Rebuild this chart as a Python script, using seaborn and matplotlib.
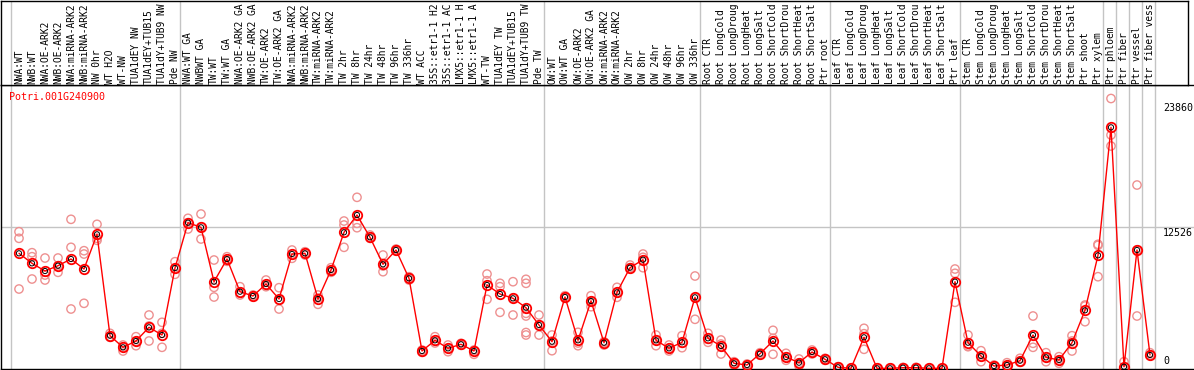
import matplotlib
matplotlib.use('Agg')
import matplotlib.pyplot as plt
import seaborn as sns
import pandas as pd
import numpy as np

gene = "Potri.001G240900"

# labels as far as they show in the header strip
samples = [
    "NWA:WT", "NWB:WT", "NWA:OE-ARK2", "NWB:OE-ARK2", "NWA:miRNA-ARK2",
    "NWB:miRNA-ARK2", "NW 0hr", "WT H2O", "WT-NW", "TUA1dEY NW",
    "TUA1dEY+TUB15", "TUA1dY+TUB9 NW", "Pde NW",
    "NWA:WT GA", "NWBWT GA", "TW:WT", "TW:WT GA", "NWA:OE-ARK2 GA",
    "NWB:OE-ARK2 GA", "TW:OE-ARK2", "TW:OE-ARK2 GA", "NWA:miRNA-ARK2",
    "NWB:miRNA-ARK2", "TW:miRNA-ARK2", "TW:miRNA-ARK2", "TW 2hr", "TW 8hr",
    "TW 24hr", "TW 48hr", "TW 96hr", "TW 336hr", "WT ACC",
    "35S::etr1-1 H2", "35S::etr1-1 AC", "LMX5::etr1-1 H",
    "LMX5::etr1-1 A", "WT-TW", "TUA1dEY TW", "TUA1dEY+TUB15",
    "TUA1dY+TUB9 TW", "Pde TW",
    "OW:WT", "OW:WT GA", "OW:OE-ARK2", "OW:OE-ARK2 GA", "OW:miRNA-ARK2",
    "OW:miRNA-ARK2", "OW 2hr", "OW 8hr", "OW 24hr", "OW 48hr", "OW 96hr",
    "OW 336hr",
    "Root CTR", "Root LongCold", "Root LongDroug", "Root LongHeat",
    "Root LongSalt", "Root ShortCold", "Root ShortDrou", "Root ShortHeat",
    "Root ShortSalt", "Ptr root",
    "Leaf CTR", "Leaf LongCold", "Leaf LongDroug", "Leaf LongHeat",
    "Leaf LongSalt", "Leaf ShortCold", "Leaf ShortDrou", "Leaf ShortHeat",
    "Leaf ShortSalt", "Ptr leaf",
    "Stem CTR", "Stem LongCold", "Stem LongDroug", "Stem LongHeat",
    "Stem LongSalt", "Stem ShortCold", "Stem ShortDrou", "Stem ShortHeat",
    "Stem ShortSalt", "Ptr shoot", "Ptr xylem",
    "Ptr phloem", "Ptr fiber", "Ptr vessel", "Ptr fiber vess",
]

mean_expr = [
    10205, 9323, 8644, 9111, 9702, 8820, 11881, 2937, 1914, 2470, 3678, 2999, 8908,
    12904, 12498, 7700, 9702, 6818, 6439, 7497, 6174, 10143, 10205, 6174, 8732,
    12057, 13583, 11616, 9235, 10496, 8000, 1588, 2531, 1826, 2179, 1588, 7409,
    6615, 6236, 5407, 3881,
    2408, 6350, 2531, 5998, 2320, 6765, 8935, 9640, 2531, 1826, 2355, 6324,
    2708, 2029, 503, 353, 1349, 2470, 1058, 556, 1499, 856,
    150, 62, 2796, 62, 62, 115, 115, 62, 62, 7700,
    2320, 1147, 265, 353, 732, 2999, 1032, 794, 2320, 5177, 10028,
    21318, 200, 10496, 1235,
]

rep_expr = [
    [12110, 11528, 7056], [10258, 9905, 7938], [9790, 8291, 7850],
    [9790, 9111, 8529], [13204, 10734, 5292], [10434, 10143, 5795],
    [12763, 11528, 11351], [3149, 2849, 2796], [2117, 1940, 1588],
    [2849, 2443, 2055], [4763, 3793, 2470], [4119, 3149, 1914],
    [9464, 8908, 8353],
    [13292, 12904, 12348], [13671, 12524, 11466], [9614, 7206, 6350],
    [9905, 9702, 9499], [7259, 6703, 6527], [6527, 6439, 6350],
    [7850, 7409, 7259], [7171, 6086, 5292], [10496, 10143, 9764],
    [10346, 10205, 10055], [6527, 6262, 5707], [8935, 8732, 8529],
    [13054, 12701, 10734], [15144, 12851, 12463], [11819, 11616, 11528],
    [10055, 9085, 8582], [10584, 10496, 10408], [8141, 8000, 7850],
    [1676, 1588, 1473], [2849, 2443, 2293], [2117, 1826, 1526],
    [2267, 2179, 2090], [1676, 1614, 1297], [8379, 7788, 6148],
    [7559, 7259, 5001], [7700, 6250, 4763],
    [7912, 7559, 4913, 4675, 3219, 2999], [4763, 3881, 2999],
    [2999, 2470, 1614], [6465, 6350, 6236], [3237, 2293, 2055],
    [6465, 5954, 5495], [2408, 2320, 2117], [7206, 6765, 6324],
    [9173, 8935, 8820], [10143, 9852, 8935], [2999, 2531, 2055],
    [2117, 1826, 1588], [2937, 2267, 1879], [8203, 6324, 4384],
    [3149, 2620, 2355], [2558, 2205, 1323], [644, 503, 353],
    [441, 353, 265], [1438, 1349, 1235], [3413, 2708, 1297],
    [1385, 1058, 767], [882, 529, 265], [1676, 1499, 1323],
    [944, 856, 767],
    [203, 150, 88], [88, 62, 35], [3590, 3113, 1738], [80, 60, 45],
    [75, 60, 50], [140, 115, 90], [150, 110, 85], [70, 60, 55],
    [75, 60, 50], [8820, 8441, 5883],
    [2999, 2029, 1967], [1614, 1147, 644], [353, 265, 176],
    [556, 291, 203], [944, 644, 591], [4675, 2267, 1914],
    [1438, 1014, 644], [1085, 794, 503], [2937, 2470, 1588],
    [5645, 5557, 4172], [10999, 10910, 8141],
    [23860, 20639, 19669], [644, 0, 0], [16229, 10496, 4675],
    [1438, 1235, 1173],
]

group_edges = [0.5, 13.5, 41.5, 53.5, 63.5, 73.5, 84.5, 85.5, 86.5, 87.5, 88.5]
y_labels = [0, 12526, 23860]
y_top = 25052

pos = np.arange(1, len(samples) + 1)
means_df = pd.DataFrame({"pos": pos, "expr": mean_expr})
reps_df = pd.DataFrame(
    [(i + 1, v) for i, r in enumerate(rep_expr) for v in r], columns=["pos", "expr"]
)

sns.set_theme(style="white")
plt.rcParams["font.family"] = ["DejaVu Sans Mono"]

W, H = 1194, 370
fig = plt.figure(figsize=(W / 100, H / 100), dpi=100)
ax = fig.add_axes([1 / W, 1 / H, 1193 / W, 284 / H])
hdr = fig.add_axes([1 / W, (H - 85) / H, 1187 / W, 84.5 / H])

# column k sits at pixel 6 + 13k
ax.set_xlim(-5 / 13, 1188 / 13)
hdr.set_xlim(-5 / 13, 1182 / 13)
ax.set_ylim(0, y_top)
hdr.set_ylim(0, 1)

grid_c = "#c4c4c4"
ax.axhline(12526, color=grid_c, lw=1, zorder=0)
for e in group_edges:
    ax.axvline(e - 0.12, color=grid_c, lw=1, zorder=0)
    hdr.axvline(e - 0.12, color=grid_c, lw=1, zorder=0)

sns.scatterplot(data=reps_df, x="pos", y="expr", ax=ax, marker="o", s=36,
                facecolor="none", edgecolor="#ee9090", linewidth=1.0, zorder=2)
sns.lineplot(data=means_df, x="pos", y="expr", ax=ax, color="red", lw=1.0,
             marker="o", ms=6.8, mfc="none", mec="red", mew=1.3, zorder=3)
sns.scatterplot(data=means_df, x="pos", y="expr", ax=ax, marker="o", s=14,
                facecolor="none", edgecolor="black", linewidth=0.7, zorder=4)

for i, name in enumerate(samples):
    hdr.text(i + 1, 1.5 / 85, name, rotation=90, ha="center", va="bottom",
             fontsize=6.9, color="black", clip_on=True,
             transform=hdr.get_xaxis_transform())

offsets = {0: (2.5, "bottom"), 12526: (-0.5, "top"), 23860: (-3.2, "top")}
for t in y_labels:
    dy, va = offsets[t]
    ax.annotate(str(t), xy=(1162 / 1193, t), xycoords=ax.get_yaxis_transform(),
                xytext=(0, dy), textcoords="offset points", ha="left", va=va,
                fontsize=7.2, color="black")

fig.text(9 / W, 1 - 97 / H, gene, color="red", fontsize=7.2, ha="left", va="center")

for a in (ax, hdr):
    a.set_xticks([])
    a.set_yticks([])
    a.set_xlabel("")
    a.set_ylabel("")
    for sp in a.spines.values():
        sp.set_color("black")
        sp.set_linewidth(1.0)
ax.spines["right"].set_visible(False)

fig.savefig("out.png", dpi=100)
